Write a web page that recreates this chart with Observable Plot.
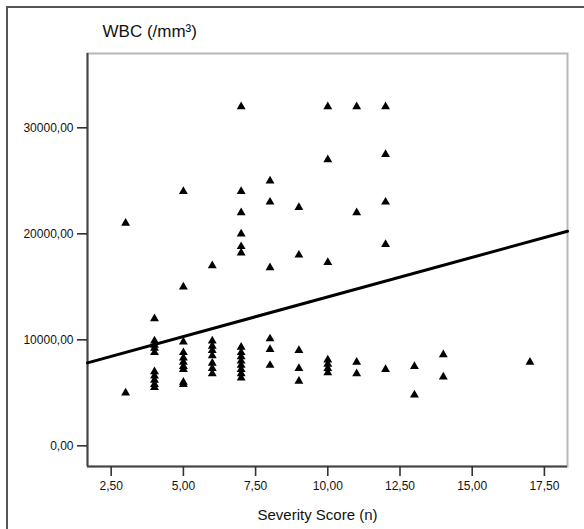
<!DOCTYPE html>
<html><head><meta charset="utf-8">
<script src="https://cdn.jsdelivr.net/npm/d3@7"></script>
<script src="https://cdn.jsdelivr.net/npm/@observablehq/plot@0.6"></script>
<style>body{margin:0;background:#fff} svg{display:block}</style>
</head><body><div id="chart"></div>
<script>
const title = "WBC (/mm³)";
const xLabel = "Severity Score (n)";
const xTicks = [2.5, 5, 7.5, 10, 12.5, 15, 17.5];
const yTicks = [0, 10000, 20000, 30000];
const xDomain = [1.68, 18.3];
const yDomain = [-1950, 37010];

const severity = [
  3, 3,
  4, 4, 4, 4, 4, 4, 4, 4, 4, 4,
  5, 5, 5, 5, 5, 5, 5, 5, 5, 5,
  6, 6, 6, 6, 6, 6, 6, 6,
  7, 7, 7, 7, 7, 7, 7, 7, 7, 7, 7, 7, 7, 7,
  8, 8, 8, 8, 8, 8,
  9, 9, 9, 9, 9,
  10, 10, 10, 10, 10, 10, 10,
  11, 11, 11, 11,
  12, 12, 12, 12, 12,
  13, 13,
  14, 14,
  17
];
const wbc = [
  21000, 5000,
  12000, 9900, 9500, 9200, 8800, 7000, 6600, 6200, 5800, 5500,
  24000, 15000, 9800, 8800, 8300, 7900, 7500, 7200, 6000, 5800,
  17000, 9900, 9400, 9000, 8500, 7800, 7300, 6800,
  32000, 24000, 22000, 20000, 18800, 18200, 9300, 8800, 8400, 8000, 7600, 7200, 6800, 6400,
  25000, 23000, 16800, 10100, 9100, 7600,
  22500, 18000, 9000, 7300, 6100,
  32000, 27000, 17300, 8100, 7700, 7300, 6900,
  32000, 22000, 7900, 6800,
  32000, 27500, 23000, 19000, 7200,
  7500, 4800,
  8600, 6500,
  7900
];
// fitted line
const fitX = [1.68, 18.3];
const fitIntercept = 6575;
const fitSlope = 747;

const fmt = v => d3.format(".2f")(v).replace(".", ",");
const points = severity.map((s, i) => ({s, w: wbc[i]}));
const fit = fitX.map(x => ({x, y: fitIntercept + fitSlope * x}));

const plot = Plot.plot({
  width: 584, height: 529,
  marginLeft: 87, marginRight: 17, marginTop: 53, marginBottom: 63,
  style: {fontFamily: "'Liberation Sans', Arial, sans-serif", fontSize: "12px", color: "#111", background: "#fff"},
  x: {domain: xDomain},
  y: {domain: yDomain},
  marks: [
    Plot.frame({stroke: "#b8b8b8", strokeWidth: 2}),
    Plot.ruleX([xDomain[0]], {stroke: "#444", strokeWidth: 2}),
    Plot.ruleY([yDomain[0]], {stroke: "#444", strokeWidth: 2}),
    Plot.axisY({ticks: yTicks, tickFormat: fmt, tickSize: 10, tickPadding: 4, label: null, strokeWidth: 1.6, stroke: "#333", fill: "#111", fontSize: 12}),
    Plot.axisX({ticks: xTicks, tickFormat: fmt, tickSize: 10, tickPadding: 5, label: null, strokeWidth: 1.6, stroke: "#333", fill: "#111", fontSize: 12}),
    Plot.dot(points, {x: "s", y: "w", symbol: "triangle", r: 3.3, fill: "#000", stroke: "none"}),
    Plot.line(fit, {x: "x", y: "y", stroke: "#000", strokeWidth: 3}),
    Plot.text([title], {frameAnchor: "top-left", dx: 15, dy: -22, textAnchor: "start", lineAnchor: "middle", fontSize: 17, fill: "#111"}),
    Plot.text([xLabel], {frameAnchor: "bottom", dx: -10, dy: 49, lineAnchor: "middle", fontSize: 15, fill: "#111"})
  ]
});
d3.select(plot).append("rect")
  .attr("x", 7).attr("y", 7).attr("width", 700).attr("height", 700)
  .attr("fill", "none").attr("stroke", "#555").attr("stroke-width", 2);
document.getElementById("chart").appendChild(plot);
</script>
</body></html>
